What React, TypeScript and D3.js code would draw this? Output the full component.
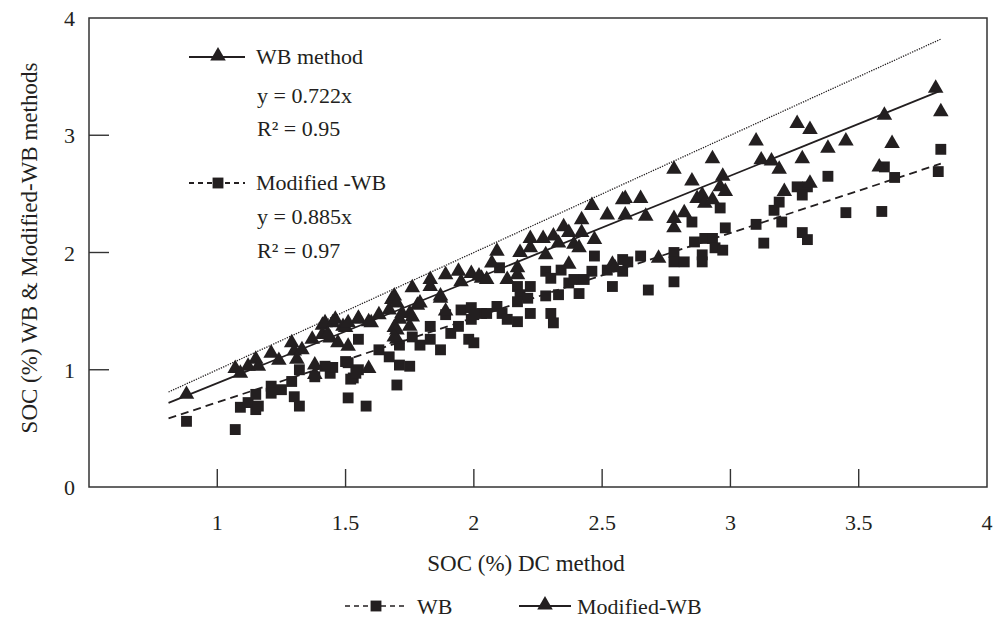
import React from "react";
import * as d3 from "d3";

// DC method (x) vs WB / Modified-WB (y)
const triX = [0.88, 1.07, 1.09, 1.12, 1.15, 1.16, 1.21, 1.24, 1.29, 1.30, 1.33, 1.31, 1.37, 1.38, 1.38, 1.41, 1.41,
  1.45, 1.50, 1.55, 1.60, 1.68, 1.71, 1.75, 1.78, 1.83, 1.87, 1.89, 1.44, 1.69, 1.70,
  1.42, 1.46, 1.49, 1.51, 1.55, 1.59, 1.63, 1.67, 1.69, 1.70, 1.72, 1.70, 1.75, 1.76, 1.79, 1.76, 1.83, 1.87, 1.89, 1.94, 1.99, 1.95, 2.03, 1.47, 1.51, 1.43, 1.59, 1.69,
  2.09, 2.07, 2.02, 2.05, 2.13, 2.18, 2.17, 2.17, 2.22, 2.22, 2.27, 2.28, 2.31, 2.33, 2.35, 2.37, 2.39, 2.41, 2.42, 2.42, 2.46, 2.47, 2.52, 2.58, 2.37, 2.54,
  2.59, 2.65, 2.59, 2.67, 2.78, 2.78, 2.78, 2.82, 2.85, 2.87, 2.89, 2.90, 2.93, 2.93, 2.97, 2.96, 2.98, 3.10, 3.12, 3.16, 3.19, 3.21, 2.72, 2.55,
  3.26, 3.31, 3.28, 3.38, 3.45, 3.31, 3.60, 3.63, 3.58, 3.80, 3.82];
const triY = [0.79, 1.01, 0.97, 1.03, 1.09, 1.03, 1.14, 1.08, 1.23, 1.16, 1.17, 1.09, 1.26, 1.04, 0.96, 1.38, 1.30,
  1.40, 1.36, 1.43, 1.40, 1.60, 1.43, 1.48, 1.55, 1.71, 1.61, 1.50, 1.27, 1.36, 1.26,
  1.40, 1.43, 1.37, 1.40, 1.44, 1.41, 1.47, 1.51, 1.63, 1.57, 1.48, 1.34, 1.37, 1.70, 1.57, 1.45, 1.77, 1.63, 1.81, 1.84, 1.82, 1.75, 1.78, 1.23, 1.20, 1.30, 1.01, 1.28,
  2.01, 1.91, 1.80, 1.77, 1.77, 2.00, 1.87, 1.81, 2.12, 2.04, 2.12, 1.98, 2.14, 2.08, 2.22, 2.17, 2.07, 2.04, 2.28, 2.17, 2.40, 2.11, 2.32, 2.45, 1.90, 1.90,
  2.46, 2.46, 2.32, 2.31, 2.71, 2.29, 2.21, 2.34, 2.61, 2.46, 2.49, 2.42, 2.45, 2.80, 2.65, 2.56, 2.52, 2.95, 2.79, 2.78, 2.71, 2.52, 1.95, 1.87,
  3.10, 3.05, 2.80, 2.89, 2.95, 2.59, 3.17, 2.93, 2.73, 3.40, 3.20];

const sqX = [0.88, 1.07, 1.09, 1.12, 1.15, 1.15, 1.16, 1.21, 1.21, 1.25, 1.29, 1.30, 1.32, 1.32,
  1.38, 1.44, 1.45, 1.50, 1.53, 1.55, 1.55,
  1.42, 1.51, 1.52, 1.54, 1.51, 1.58, 1.63, 1.67, 1.71, 1.75, 1.70, 1.71, 1.76, 1.79, 1.83, 1.83, 1.87, 1.89, 1.91, 1.94, 1.95, 1.99, 1.98, 1.99, 2.03,
  2.10, 2.28, 2.30, 2.17, 2.22, 2.18, 2.21, 2.17, 2.28, 2.33, 2.37, 2.39, 2.41, 2.43, 2.34, 2.46, 2.47, 2.52, 2.54, 2.58, 2.58, 2.09, 2.05, 2.11, 2.13, 2.17, 2.22, 2.30, 2.31, 2.00, 2.00,
  2.60, 2.65, 2.68, 2.78, 2.78, 2.78, 2.82, 2.86, 2.90, 2.93, 2.89, 2.89, 2.94, 2.97, 2.85, 2.96, 2.98, 3.10, 3.13, 3.17, 3.19, 3.20,
  3.38, 3.26, 3.30, 3.28, 3.28, 3.30, 3.45, 3.59, 3.60, 3.64, 3.82, 3.81];
const sqY = [0.56, 0.49, 0.68, 0.72, 0.66, 0.79, 0.69, 0.86, 0.80, 0.83, 0.90, 0.77, 0.69, 1.00,
  0.94, 0.97, 1.02, 1.07, 0.93, 1.00, 1.26,
  1.03, 1.06, 0.92, 0.97, 0.76, 0.69, 1.17, 1.11, 1.04, 1.03, 0.87, 1.21, 1.28, 1.21, 1.37, 1.26, 1.17, 1.47, 1.31, 1.37, 1.51, 1.53, 1.26, 1.43, 1.48,
  1.87, 1.84, 1.78, 1.71, 1.71, 1.64, 1.61, 1.58, 1.63, 1.64, 1.74, 1.77, 1.65, 1.77, 1.85, 1.84, 1.97, 1.85, 1.71, 1.94, 1.84, 1.54, 1.48, 1.48, 1.43, 1.41, 1.48, 1.48, 1.40, 1.47, 1.23,
  1.92, 1.97, 1.68, 1.75, 2.00, 1.92, 1.92, 2.09, 2.12, 2.12, 1.98, 1.92, 2.04, 2.02, 2.26, 2.38, 2.21, 2.24, 2.08, 2.36, 2.43, 2.26,
  2.65, 2.56, 2.56, 2.49, 2.17, 2.11, 2.34, 2.35, 2.73, 2.64, 2.88, 2.69];

const fitX = [0.81, 3.82];
const slopeSolid = 0.885;
const slopeDashed = 0.722;
const slopeOneToOne = 1;

const xTicks = [1, 1.5, 2, 2.5, 3, 3.5, 4];
const yTicks = [0, 1, 2, 3, 4];

const ink = "#231f20";
const font = "'Liberation Serif', 'Times New Roman', serif";

export default function App() {
  const x = d3.scaleLinear().domain([0.5, 4]).range([89, 987]);
  const y = d3.scaleLinear().domain([0, 4]).range([487, 18]);

  const tri = d3.symbol(d3.symbolTriangle, 105)()!;
  const sq = d3.symbol(d3.symbolSquare, 118)()!;

  const fitLine = (k: number) =>
    d3.line<number>().x((v) => x(v)).y((v) => y(v * k))(fitX)!;

  return (
    <svg width={995} height={621} style={{ position: "absolute", left: 0, top: 0, background: "#fff" }} fontFamily={font}>
      <rect x={x(0.5)} y={y(4)} width={x(4) - x(0.5)} height={y(0) - y(4)} fill="none" stroke="#333" strokeWidth={1.5} />

      {xTicks.filter((t) => t < 4).map((t) => (
        <line key={"xt" + t} x1={x(t)} x2={x(t)} y1={y(0)} y2={y(0) - 18} stroke="#333" strokeWidth={1.4} />
      ))}
      {yTicks.filter((t) => t > 0 && t < 4).map((t) => (
        <line key={"yt" + t} x1={x(0.5)} x2={x(0.5) + 20} y1={y(t)} y2={y(t)} stroke="#333" strokeWidth={1.4} />
      ))}
      {xTicks.map((t) => (
        <text key={"xl" + t} x={x(t)} y={530} fontSize={22} textAnchor="middle" fill={ink}>{t}</text>
      ))}
      {yTicks.map((t) => (
        <text key={"yl" + t} x={75} y={y(t) + 8} fontSize={22} textAnchor="end" fill={ink}>{t}</text>
      ))}

      <text x={526} y={571} fontSize={23} textAnchor="middle" fill={ink}>SOC (%) DC method</text>
      <text transform="translate(37,248) rotate(-90)" fontSize={23} textAnchor="middle" fill={ink}>
        SOC (%) WB &amp; Modified-WB methods
      </text>

      <path d={fitLine(slopeOneToOne)} stroke={ink} strokeWidth={1.3} strokeDasharray="1.3,1.2" fill="none" />
      <path d={fitLine(slopeSolid)} stroke={ink} strokeWidth={1.8} fill="none" />
      <path d={fitLine(slopeDashed)} stroke={ink} strokeWidth={1.8} strokeDasharray="8,5" fill="none" />

      {sqX.map((v, i) => (
        <path key={"s" + i} d={sq} transform={`translate(${x(v)},${y(sqY[i])})`} fill={ink} />
      ))}
      {triX.map((v, i) => (
        <path key={"t" + i} d={tri} transform={`translate(${x(v)},${y(triY[i])})`} fill={ink} />
      ))}

      <g fill={ink} fontSize={22}>
        <line x1={189} x2={245} y1={57} y2={57} stroke={ink} strokeWidth={1.8} />
        <path d={tri} transform="translate(218,56)" />
        <text x={256} y={64}>WB method</text>
        <text x={257} y={103}>y = 0.722x</text>
        <text x={257} y={136}>R² = 0.95</text>
        <line x1={189} x2={245} y1={183} y2={183} stroke={ink} strokeWidth={1.8} strokeDasharray="5,4" />
        <path d={sq} transform="translate(218,183)" />
        <text x={256} y={190}>Modified -WB</text>
        <text x={257} y={224}>y = 0.885x</text>
        <text x={257} y={258}>R² = 0.97</text>
      </g>

      <g fill={ink} fontSize={22}>
        <line x1={345} x2={408} y1={606} y2={606} stroke={ink} strokeWidth={1.6} strokeDasharray="5,4" />
        <path d={sq} transform="translate(376,606)" />
        <text x={417} y={614}>WB</text>
        <line x1={519} x2={571} y1={606} y2={606} stroke={ink} strokeWidth={1.8} />
        <path d={tri} transform="translate(545,605)" />
        <text x={577} y={614}>Modified-WB</text>
      </g>
    </svg>
  );
}
